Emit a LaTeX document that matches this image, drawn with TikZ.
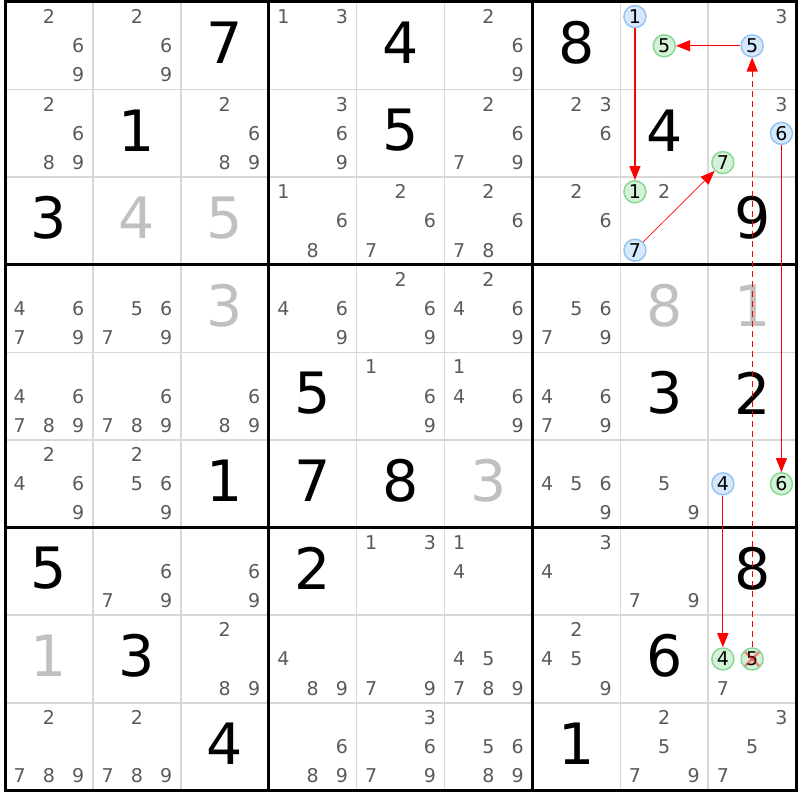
\documentclass[tikz,border=0pt]{standalone}
\usepackage{fontspec}
\setmainfont{DejaVu Sans}
\usetikzlibrary{arrows.meta}
\definecolor{candgray}{RGB}{90,90,90}
\definecolor{solvedgray}{RGB}{192,192,192}
\definecolor{gridgray}{RGB}{216,216,216}
\definecolor{onfill}{RGB}{214,232,251}
\definecolor{ondraw}{RGB}{150,196,242}
\definecolor{offfill}{RGB}{212,242,216}
\definecolor{offdraw}{RGB}{136,216,150}
\newcommand{\putcands}[3]{%
  \foreach \dg in {#3}
    \node[cand] (r#1c#2n\dg) at ({#2-1+(mod(\dg-1,3)+0.5)/3},{#1-1+(floor((\dg-1)/3)+0.5)/3}) {\dg};}

\begin{document}
\begin{tikzpicture}[x=87.9pt,y=-87.6pt]
\tikzstyle{cand}=[inner sep=0pt, text=candgray, font=\fontsize{19}{19}\selectfont]
\tikzstyle{given}=[inner sep=0pt, yshift=3pt, font=\fontsize{57}{57}\selectfont]
\tikzstyle{solved}=[given, text=solvedgray]
\tikzstyle{candon}=[circle, inner sep=0pt, minimum size=22pt, line width=1.5pt, draw=ondraw, fill=onfill, font=\fontsize{19}{19}\selectfont]
\tikzstyle{candoff}=[candon, draw=offdraw, fill=offfill]
\tikzstyle{linkstrong}=[red, line width=1.2pt, -{Triangle[length=14pt,width=11pt]}]
\tikzstyle{linkweak}=[linkstrong, dash pattern=on 6pt off 4pt]
\useasboundingbox (-0.0569,-0.0228) rectangle (9.0444,9.1096);
% grid
\foreach \i in {1,2,4,5,7,8} {
  \draw [gridgray, line width=1.5pt] (\i,0) -- (\i,9);
  \draw [gridgray, line width=1.5pt] (0,\i) -- (9,\i);
}
\foreach \i in {3,6} {
  \draw [black, line width=3pt] (\i,0) -- (\i,9);
  \draw [black, line width=3pt] (0,\i) -- (9,\i);
}
\draw [black, line width=3pt] (0,0) rectangle (9,9);
% givens
\node [given] (g13) at (2.5,0.5) {7};
\node [given] (g15) at (4.5,0.5) {4};
\node [given] (g17) at (6.5,0.5) {8};
\node [given] (g22) at (1.5,1.5) {1};
\node [given] (g25) at (4.5,1.5) {5};
\node [given] (g28) at (7.5,1.5) {4};
\node [given] (g31) at (0.5,2.5) {3};
\node [solved] (g32) at (1.5,2.5) {4};
\node [solved] (g33) at (2.5,2.5) {5};
\node [given] (g39) at (8.5,2.5) {9};
\node [solved] (g43) at (2.5,3.5) {3};
\node [solved] (g48) at (7.5,3.5) {8};
\node [solved] (g49) at (8.5,3.5) {1};
\node [given] (g54) at (3.5,4.5) {5};
\node [given] (g58) at (7.5,4.5) {3};
\node [given] (g59) at (8.5,4.5) {2};
\node [given] (g63) at (2.5,5.5) {1};
\node [given] (g64) at (3.5,5.5) {7};
\node [given] (g65) at (4.5,5.5) {8};
\node [solved] (g66) at (5.5,5.5) {3};
\node [given] (g71) at (0.5,6.5) {5};
\node [given] (g74) at (3.5,6.5) {2};
\node [given] (g79) at (8.5,6.5) {8};
\node [solved] (g81) at (0.5,7.5) {1};
\node [given] (g82) at (1.5,7.5) {3};
\node [given] (g88) at (7.5,7.5) {6};
\node [given] (g93) at (2.5,8.5) {4};
\node [given] (g97) at (6.5,8.5) {1};
% candidates
\putcands{1}{1}{2,6,9} \putcands{1}{2}{2,6,9} \putcands{1}{4}{1,3}
\putcands{1}{6}{2,6,9} \putcands{1}{9}{3}
\putcands{2}{1}{2,6,8,9} \putcands{2}{3}{2,6,8,9} \putcands{2}{4}{3,6,9}
\putcands{2}{6}{2,6,7,9} \putcands{2}{7}{2,3,6} \putcands{2}{9}{3}
\putcands{3}{4}{1,6,8} \putcands{3}{5}{2,6,7} \putcands{3}{6}{2,6,7,8}
\putcands{3}{7}{2,6} \putcands{3}{8}{2}
\putcands{4}{1}{4,6,7,9} \putcands{4}{2}{5,6,7,9} \putcands{4}{4}{4,6,9}
\putcands{4}{5}{2,6,9} \putcands{4}{6}{2,4,6,9} \putcands{4}{7}{5,6,7,9}
\putcands{5}{1}{4,6,7,8,9} \putcands{5}{2}{6,7,8,9} \putcands{5}{3}{6,8,9}
\putcands{5}{5}{1,6,9} \putcands{5}{6}{1,4,6,9} \putcands{5}{7}{4,6,7,9}
\putcands{6}{1}{2,4,6,9} \putcands{6}{2}{2,5,6,9} \putcands{6}{7}{4,5,6,9}
\putcands{6}{8}{5,9}
\putcands{7}{2}{6,7,9} \putcands{7}{3}{6,9} \putcands{7}{5}{1,3}
\putcands{7}{6}{1,4} \putcands{7}{7}{3,4} \putcands{7}{8}{7,9}
\putcands{8}{3}{2,8,9} \putcands{8}{4}{4,8,9} \putcands{8}{5}{7,9}
\putcands{8}{6}{4,5,7,8,9} \putcands{8}{7}{2,4,5,9} \putcands{8}{9}{7}
\putcands{9}{1}{2,7,8,9} \putcands{9}{2}{2,7,8,9} \putcands{9}{4}{6,8,9}
\putcands{9}{5}{3,6,7,9} \putcands{9}{6}{5,6,8,9} \putcands{9}{8}{2,5,7,9}
\putcands{9}{9}{3,5,7}
% chain
\node [candon] (r1c8n1) at (7.1667,0.1667) {1};
\node [candoff] (r1c8n5) at (7.5,0.5) {5};
\node [candon] (r1c9n5) at (8.5,0.5) {5};
\node [candon] (r2c9n6) at (8.8333,1.5) {6};
\node [candoff] (r2c9n7) at (8.1667,1.8333) {7};
\node [candoff] (r3c8n1) at (7.1667,2.1667) {1};
\node [candon] (r3c8n7) at (7.1667,2.8333) {7};
\node [candon] (r6c9n4) at (8.1667,5.5) {4};
\node [candoff] (r6c9n6) at (8.8333,5.5) {6};
\node [candoff] (r8c9n4) at (8.1667,7.5) {4};
\node [candoff] (r8c9n5) at (8.5,7.5) {5};
\draw [red, opacity=0.45, line width=2.5pt] ([shift={(-7pt,7pt)}]r8c9n5.center) -- ([shift={(7pt,-7pt)}]r8c9n5.center);
\draw [red, opacity=0.45, line width=2.5pt] ([shift={(-7pt,-7pt)}]r8c9n5.center) -- ([shift={(7pt,7pt)}]r8c9n5.center);
\draw [linkstrong] (r1c8n1) -- (r3c8n1);
\draw [linkstrong] (r1c9n5) -- (r1c8n5);
\draw [linkstrong, line width=0.7pt] (r3c8n7) -- (r2c9n7);
\draw [linkstrong] (r2c9n6) -- (r6c9n6);
\draw [linkstrong] (r6c9n4) -- (r8c9n4);
\draw [linkweak] (r8c9n5) -- (r1c9n5);
\end{tikzpicture}
\end{document}
